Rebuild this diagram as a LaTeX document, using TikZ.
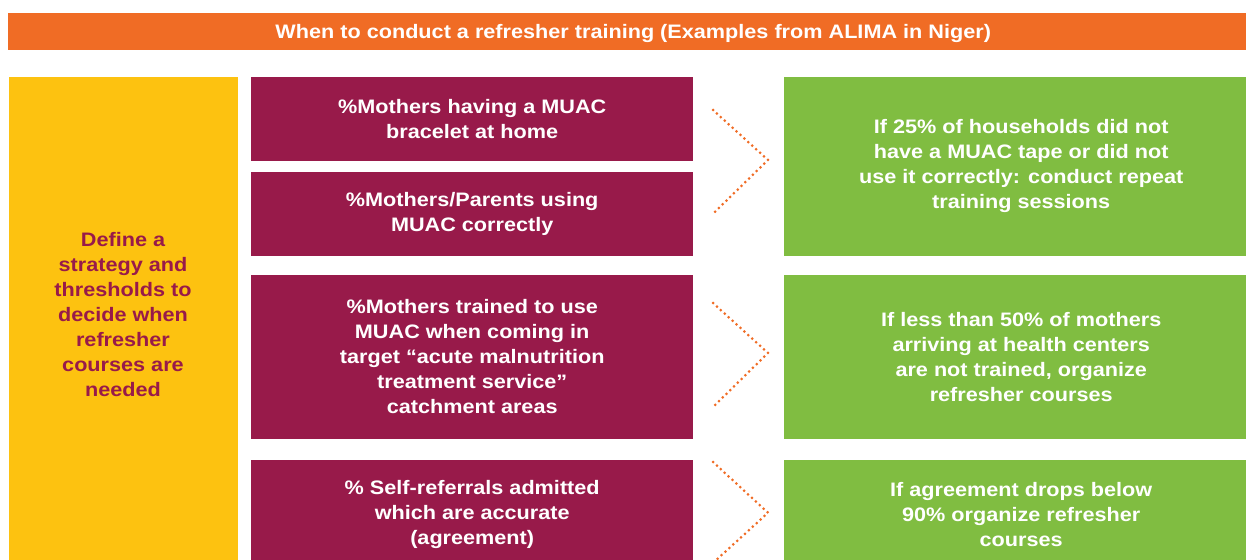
\documentclass[tikz,border=0pt]{standalone}
\usepackage{fontspec}
\setmainfont{Liberation Sans}[FakeStretch=1.11]
\usepackage{tikz}
\usetikzlibrary{positioning}

\definecolor{headorange}{RGB}{240,108,37}
\definecolor{boxyellow}{RGB}{253,194,16}
\definecolor{boxmaroon}{RGB}{152,26,74}
\definecolor{boxgreen}{RGB}{128,189,65}
\definecolor{dotorange}{RGB}{240,108,37}

\begin{document}
\begin{tikzpicture}[x=1pt, y=-1pt,
    txt/.style={font=\fontsize{19.5}{25}\selectfont\bfseries, align=center},
    box/.style={anchor=north west, inner sep=0pt, txt},
    mbox/.style={box, fill=boxmaroon, text=white, minimum width=442pt},
    gbox/.style={box, fill=boxgreen, text=white, minimum width=474pt},
    chevron/.style={draw=dotorange, line width=3pt, line cap=round, dash pattern=on 0pt off 5.3pt}]
    \clip (0,0) rectangle (1246,559);
    \useasboundingbox (0,0) rectangle (1246,559);

    % Title bar
    \node[box, fill=headorange, text=white, minimum width=1250pt, minimum height=37pt,
          text height=14pt, text depth=0pt] (title) at (8,13)
        {When to conduct a refresher training (Examples from ALIMA in Niger)};

    % Left column
    \node[box, fill=boxyellow, minimum width=229pt, minimum height=491pt] (strategy) at (9,77) {};
    \node[txt, text=boxmaroon] (strategytxt) at (123,315)
        {Define a\\strategy and\\thresholds to\\decide when\\refresher\\courses are\\needed};

    % Indicators
    \node[mbox, minimum height=83.5pt] (ind1) at (251,77) {\%Mothers having a MUAC\\bracelet at home};
    \node[mbox, minimum height=83.5pt] (ind2) at (251,172) {\%Mothers/Parents using\\MUAC correctly};
    \node[mbox, minimum height=163.5pt] (ind3) at (251,275)
        {\%Mothers trained to use\\MUAC when coming in\\target “acute malnutrition\\treatment service”\\catchment areas};
    \node[mbox, minimum height=108pt] (ind4) at (251,460) {\% Self-referrals admitted\\which are accurate\\(agreement)};

    % Thresholds
    \node[gbox, minimum height=178.5pt] (act1) at (784,77)
        {If 25\% of households did not\\have a MUAC tape or did not\\use it correctly: conduct repeat\\training sessions};
    \node[gbox, minimum height=163.5pt] (act2) at (784,275)
        {If less than 50\% of mothers\\arriving at health centers\\are not trained, organize\\refresher courses};
    \node[gbox, minimum height=108pt] (act3) at (784,460)
        {If agreement drops below\\90\% organize refresher\\courses};

    % Dotted chevrons
    \coordinate (c1a) at (713,110);
    \coordinate (c1t) at (768,160);
    \coordinate (c1b) at (713,213.7);
    \coordinate (c2a) at (713,303);
    \coordinate (c2t) at (768,353);
    \coordinate (c2b) at (713,407);
    \coordinate (c3a) at (713,462);
    \coordinate (c3t) at (768,512.7);
    \coordinate (c3b) at (713,563);
    \draw[chevron] (c1a) -- (c1t) -- (c1b);
    \draw[chevron] (c2a) -- (c2t) -- (c2b);
    \draw[chevron] (c3a) -- (c3t) -- (c3b);
\end{tikzpicture}
\end{document}
